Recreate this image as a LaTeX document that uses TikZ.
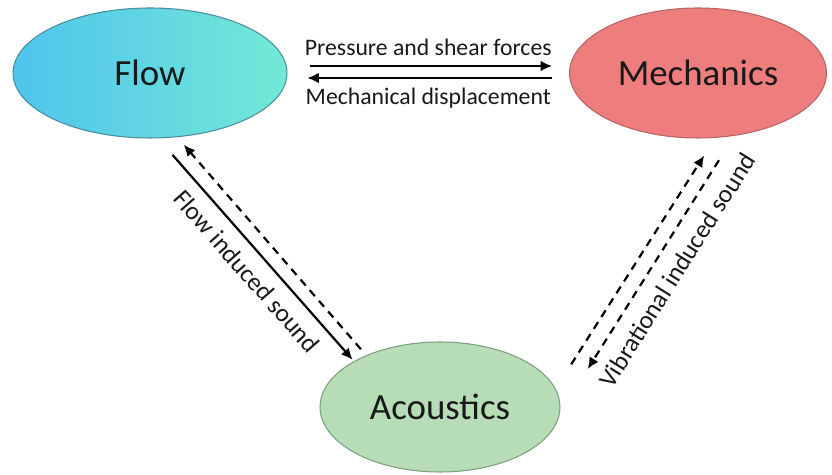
\documentclass[tikz,border=0pt]{standalone}
\usepackage{fontspec}
\setmainfont{Carlito}
\usetikzlibrary{arrows.meta,shapes.geometric}
\definecolor{flowL}{HTML}{4FC4EE}
\definecolor{flowR}{HTML}{72E9D6}
\definecolor{flowline}{HTML}{4A8E9C}
\definecolor{mechfill}{HTML}{EE7D7D}
\definecolor{mechline}{HTML}{B86464}
\definecolor{acfill}{HTML}{B6DDB6}
\definecolor{acline}{HTML}{7F9F80}

\begin{document}
\begin{tikzpicture}
		[x=0.02cm,y=-0.02cm,
		main node/.style={shape=ellipse,draw,line width=0.6pt,font=\fontsize{21}{25}\selectfont,text=black!90},
		link/.style={line width=1.25pt,-{Latex[length=6.5pt,width=6pt]},font=\fontsize{13.5}{16}\selectfont,text=black!90},
		dashlink/.style={link,dash pattern=on 4.5pt off 3.5pt},
		side label/.style={sloped,font=\fontsize{14.5}{17}\selectfont}
		]
		\useasboundingbox (0,0) rectangle (832,475);
		
		\node [main node][draw=flowline,left color=flowL,right color=flowR,minimum width=5.48cm,minimum height=2.6cm] (flow) at (150,73) {Flow};
		\node [main node][draw=mechline,fill=mechfill,minimum width=5.14cm,minimum height=2.6cm] (mech) at (698,73) {Mechanics};
		\node [main node][draw=acline,fill=acfill,minimum width=4.8cm,minimum height=2.6cm] (ac) at (440,407) {Acoustics};
		
		
		% flow <-> mechanics
		\path[link]
		([yshift=0.14cm]flow.east) edge[shorten <=13pt,shorten >=9.6pt] node[above=2pt] {Pressure and shear forces} ([yshift=0.14cm]mech.west)
		([yshift=-0.1cm]mech.west) edge[shorten <=9.6pt,shorten >=11.3pt] node[below=2pt] {Mechanical displacement} ([yshift=-0.1cm]flow.east)
		;
		
		% flow <-> acoustics
		\path[link]
		(flow.-83.4) edge[shorten <=12.5pt,shorten >=1.1pt] node[side label,pos=0.535,below=3pt] {Flow induced sound} (ac.152)
		(ac.145.8) edge[dashlink,shorten <=4.5pt,shorten >=5.7pt] (flow.-67.3)
		;
		
		% acoustics <-> mechanics
		\path[link]
		(ac.9.7) edge[dashlink,shorten <=16.4pt,shorten >=11.9pt] (mech.-75.9)
		(mech.-60.5) edge[dashlink,shorten <=16.4pt,shorten >=29.8pt] node[side label,pos=0.44,below=4pt] {Vibrational induced sound} (ac.-3.6)
		;
		
		\end{tikzpicture}
\end{document}
